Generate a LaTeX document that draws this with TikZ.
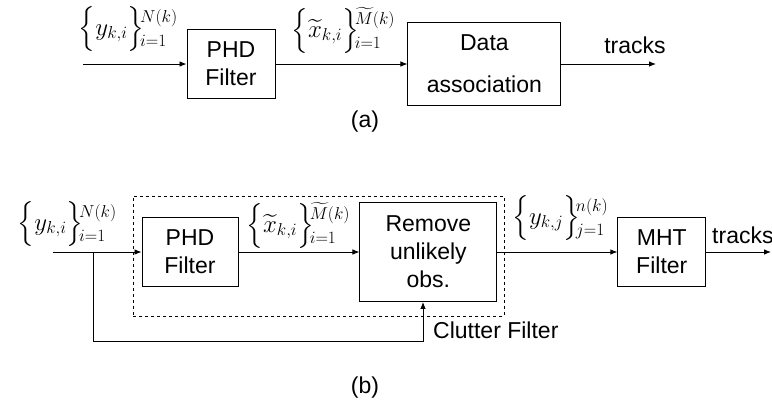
\documentclass[tikz,border=0pt]{standalone}
\usepackage{amsmath,amssymb}
\usepackage{fontspec}
\setmainfont{Liberation Sans}
\usepackage{tikz}
\usetikzlibrary{arrows.meta, positioning}

% set with limits stacked on the right of the closing brace
\newcommand{\seqlbl}[3]{$\Big\{#1\Big\}\mkern-3mu\begin{array}{@{}l@{}}\scriptstyle #2\\[-3pt]\scriptstyle #3\end{array}$}

\begin{document}
\begin{tikzpicture}[>={Latex[length=7pt,width=5.5pt]}, x=1pt, y=-1pt]
		\tikzset{
			block/.style= {draw, rectangle, fill=white, align=center, line width=0.9pt, inner sep=0pt},
			frame/.style = {rectangle, draw, dashed, line width=0.8pt, inner sep=0pt},
			lbl/.style = {inner sep=0pt},
			mlbl/.style = {inner sep=0pt, font=\fontsize{25}{27}\selectfont},
		}
		\fontsize{23}{28}\selectfont
		\useasboundingbox (0,0) rectangle (772,402);

		%(a) nodes
		\node (phdA) [block, minimum width=88pt, minimum height=69pt] at (231,64)
					{PHD\\ Filter};
		\node (dataA) [block, minimum width=153pt, minimum height=83pt, right=132pt of phdA]
					{Data\\[14pt] association};
		\node [coordinate] (inA) at (83,64) {};
		\node [coordinate] (outA) at (656,64) {};
		\node (ylblA) [mlbl] at (128,29) {\seqlbl{y_{k,i}}{N(k)}{i=1}};
		\node (xlblA) [mlbl] at (343,31) {\seqlbl{\widetilde{x}_{k,i}}{\widetilde{M}(k)}{i=1}};
		\node (trkA) [lbl] at (635,45) {tracks};
		\node (capA) [lbl] at (365,122) {(a)};

		%(b) nodes
		\node (cf) [frame, minimum width=371pt, minimum height=120pt] at (318.5,256) {};
		\node (phdB) [block, minimum width=96pt, minimum height=69pt] at (190,252)
					{PHD\\ Filter};
		\node (remB) [block, minimum width=137pt, minimum height=99pt, right=121pt of phdB]
					{Remove\\ unlikely\\ obs.};
		\node (mhtB) [block, minimum width=88pt, minimum height=69pt, right=120pt of remB]
					{MHT\\ Filter};
		\node [coordinate] (inB) at (53,252) {};
		\node [coordinate] (brB) at (93,252) {};
		\node [coordinate] (clB) at (423,341) {};
		\node [coordinate] (outB) at (771,252) {};
		\node (ylblB) [mlbl] at (67,224) {\seqlbl{y_{k,i}}{N(k)}{i=1}};
		\node (xlblB) [mlbl] at (298,226) {\seqlbl{\widetilde{x}_{k,i}}{\widetilde{M}(k)}{i=1}};
		\node (jlblB) [mlbl] at (560,218) {\seqlbl{y_{k,j}}{n(k)}{j=1}};
		\node (trkB) [lbl, anchor=west] at (712,235) {tracks};
		\node (cfl) [lbl, anchor=west] at (433,330) {Clutter Filter};
		\node (capB) [lbl] at (365,388) {(b)};

		\path[->,line width=0.8pt]
					(inA) edge (phdA)
					(phdA) edge (dataA)
					(dataA) edge (outA)
					(inB) edge (phdB)
					(phdB) edge (remB)
					(remB) edge (mhtB)
					(mhtB) edge (outB);
		\draw[->,line width=0.8pt] (brB) |- (clB) -- (clB |- remB.south);

	\end{tikzpicture}
\end{document}
